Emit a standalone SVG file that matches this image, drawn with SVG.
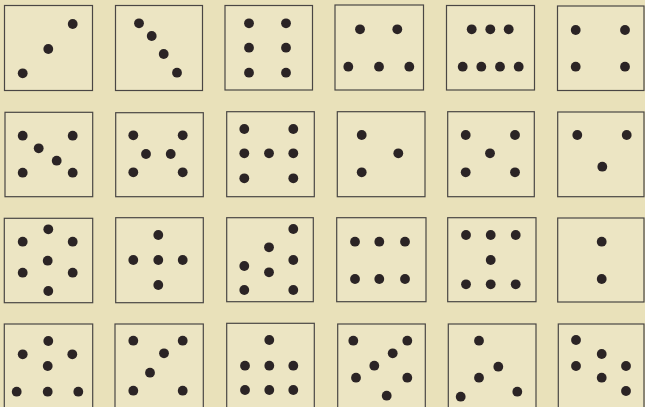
<svg xmlns="http://www.w3.org/2000/svg" width="645" height="407" viewBox="0 0 645 407">
<style>
.b{fill:#ece5c3;stroke:#4a4644;stroke-width:1.2}
.d{fill:#2b2425}
</style>
<defs><circle id="dot" r="4.9" class="d"/></defs>
<rect width="645" height="407" fill="#e9e1ba"/>
<g id="r1c1"><rect class="b" x="4.5" y="5.5" width="88" height="85"/>
<use href="#dot" x="72.7" y="24"/><use href="#dot" x="48.3" y="49"/><use href="#dot" x="22.7" y="73.3"/></g>
<g id="r1c2"><rect class="b" x="115.5" y="5.5" width="87" height="85"/>
<use href="#dot" x="139" y="23.3"/><use href="#dot" x="151.7" y="36"/><use href="#dot" x="163.7" y="54"/><use href="#dot" x="177" y="72.7"/></g>
<g id="r1c3"><rect class="b" x="225" y="5.5" width="87.5" height="84.5"/>
<use href="#dot" x="249" y="23.3"/><use href="#dot" x="286" y="23.3"/><use href="#dot" x="249" y="47.7"/><use href="#dot" x="286" y="47.7"/><use href="#dot" x="249" y="72.7"/><use href="#dot" x="286" y="72.7"/></g>
<g id="r1c4"><rect class="b" x="335" y="5" width="88.5" height="85"/>
<use href="#dot" x="360" y="29.3"/><use href="#dot" x="397.3" y="29.3"/><use href="#dot" x="348.3" y="66.7"/><use href="#dot" x="379" y="66.7"/><use href="#dot" x="409.3" y="66.7"/></g>
<g id="r1c5"><rect class="b" x="446.5" y="5.5" width="88" height="84.5"/>
<use href="#dot" x="471.7" y="29.3"/><use href="#dot" x="490.3" y="29.3"/><use href="#dot" x="508.7" y="29.3"/><use href="#dot" x="462.7" y="66.7"/><use href="#dot" x="481.3" y="66.7"/><use href="#dot" x="500" y="66.7"/><use href="#dot" x="518.7" y="66.7"/></g>
<g id="r1c6"><rect class="b" x="557.5" y="6" width="86.5" height="84.5"/>
<use href="#dot" x="575.7" y="30"/><use href="#dot" x="625" y="30"/><use href="#dot" x="575.7" y="66.7"/><use href="#dot" x="625" y="66.7"/></g>

<g id="r2c1"><rect class="b" x="5" y="112.3" width="87.7" height="84.4"/>
<use href="#dot" x="22.7" y="135.7"/><use href="#dot" x="72.7" y="135.7"/><use href="#dot" x="38.7" y="148.3"/><use href="#dot" x="56.7" y="160.7"/><use href="#dot" x="22.7" y="172.7"/><use href="#dot" x="72.7" y="172.7"/></g>
<g id="r2c2"><rect class="b" x="115.7" y="112.7" width="87.6" height="84"/>
<use href="#dot" x="133.3" y="135.3"/><use href="#dot" x="182.7" y="135.3"/><use href="#dot" x="146" y="154"/><use href="#dot" x="170.7" y="154"/><use href="#dot" x="133.3" y="172.3"/><use href="#dot" x="182.7" y="172.3"/></g>
<g id="r2c3"><rect class="b" x="226.7" y="111.7" width="87.6" height="85"/>
<use href="#dot" x="244.3" y="129"/><use href="#dot" x="293.3" y="129"/><use href="#dot" x="244.3" y="153.3"/><use href="#dot" x="269" y="153.3"/><use href="#dot" x="293.3" y="153.3"/><use href="#dot" x="244.3" y="178.3"/><use href="#dot" x="293.3" y="178.3"/></g>
<g id="r2c4"><rect class="b" x="337.3" y="111.7" width="87.7" height="85"/>
<use href="#dot" x="361.7" y="135"/><use href="#dot" x="398.3" y="153.3"/><use href="#dot" x="361.7" y="172.3"/></g>
<g id="r2c5"><rect class="b" x="447.7" y="111.7" width="86.6" height="85"/>
<use href="#dot" x="465.7" y="135"/><use href="#dot" x="515" y="135"/><use href="#dot" x="490" y="153.3"/><use href="#dot" x="465.7" y="172.3"/><use href="#dot" x="515" y="172.3"/></g>
<g id="r2c6"><rect class="b" x="557.7" y="112" width="86.3" height="84.7"/>
<use href="#dot" x="577.3" y="135"/><use href="#dot" x="626.7" y="135"/><use href="#dot" x="602.3" y="166.7"/></g>

<g id="r3c1"><rect class="b" x="4.3" y="218.3" width="88.4" height="84.4"/>
<use href="#dot" x="48.3" y="229.3"/><use href="#dot" x="22.7" y="241.7"/><use href="#dot" x="72.7" y="241.7"/><use href="#dot" x="47.7" y="260.7"/><use href="#dot" x="22.7" y="272.7"/><use href="#dot" x="72.7" y="272.7"/><use href="#dot" x="48.3" y="291"/></g>
<g id="r3c2"><rect class="b" x="115.7" y="217.7" width="87.6" height="85"/>
<use href="#dot" x="158.3" y="235"/><use href="#dot" x="133.3" y="260"/><use href="#dot" x="158.3" y="260"/><use href="#dot" x="182.7" y="260"/><use href="#dot" x="158.3" y="285"/></g>
<g id="r3c3"><rect class="b" x="226.7" y="217.7" width="86.6" height="84"/>
<use href="#dot" x="293.3" y="229"/><use href="#dot" x="269" y="247.3"/><use href="#dot" x="293.3" y="260"/><use href="#dot" x="244.3" y="266"/><use href="#dot" x="269" y="272.3"/><use href="#dot" x="244.3" y="290"/><use href="#dot" x="293.3" y="290"/></g>
<g id="r3c4"><rect class="b" x="336.7" y="217.7" width="89.3" height="84"/>
<use href="#dot" x="355" y="241.7"/><use href="#dot" x="379.3" y="241.7"/><use href="#dot" x="405" y="241.7"/><use href="#dot" x="355" y="279"/><use href="#dot" x="379.3" y="279"/><use href="#dot" x="405" y="279"/></g>
<g id="r3c5"><rect class="b" x="447.7" y="217.7" width="88.3" height="84"/>
<use href="#dot" x="466" y="235"/><use href="#dot" x="490.7" y="235"/><use href="#dot" x="515.7" y="235"/><use href="#dot" x="490.7" y="260"/><use href="#dot" x="466" y="284.3"/><use href="#dot" x="490.7" y="284.3"/><use href="#dot" x="515.7" y="284.3"/></g>
<g id="r3c6"><rect class="b" x="557.7" y="218" width="86.3" height="84"/>
<use href="#dot" x="601.7" y="241.7"/><use href="#dot" x="601.7" y="279"/></g>

<g id="r4c1"><rect class="b" x="4.3" y="324" width="88.4" height="90"/>
<use href="#dot" x="48.3" y="341"/><use href="#dot" x="22.7" y="354.3"/><use href="#dot" x="72.3" y="354.3"/><use href="#dot" x="47.7" y="366"/><use href="#dot" x="16.7" y="391.7"/><use href="#dot" x="47.7" y="391.7"/><use href="#dot" x="78.3" y="391.7"/></g>
<g id="r4c2"><rect class="b" x="115" y="324" width="88.3" height="90"/>
<use href="#dot" x="133.3" y="340.7"/><use href="#dot" x="182.7" y="340.7"/><use href="#dot" x="164" y="353.3"/><use href="#dot" x="150" y="372.7"/><use href="#dot" x="133.3" y="390.7"/><use href="#dot" x="182.7" y="390.7"/></g>
<g id="r4c3"><rect class="b" x="226.7" y="323.3" width="87.6" height="90"/>
<use href="#dot" x="269.3" y="340"/><use href="#dot" x="245" y="365.7"/><use href="#dot" x="269.3" y="365.7"/><use href="#dot" x="293.3" y="365.7"/><use href="#dot" x="245" y="390"/><use href="#dot" x="269.3" y="390"/><use href="#dot" x="293.3" y="390"/></g>
<g id="r4c4"><rect class="b" x="337.7" y="324" width="87.6" height="90"/>
<use href="#dot" x="353.3" y="340.7"/><use href="#dot" x="407.3" y="340.7"/><use href="#dot" x="392.7" y="353.3"/><use href="#dot" x="374.3" y="365.7"/><use href="#dot" x="356" y="377.7"/><use href="#dot" x="407.3" y="377.7"/><use href="#dot" x="386.7" y="395.7"/></g>
<g id="r4c5"><rect class="b" x="448.3" y="324" width="87.7" height="90"/>
<use href="#dot" x="479" y="340.7"/><use href="#dot" x="498.3" y="366.7"/><use href="#dot" x="479" y="377.7"/><use href="#dot" x="517.3" y="391.7"/><use href="#dot" x="460.7" y="396.7"/></g>
<g id="r4c6"><rect class="b" x="558.3" y="324" width="85.7" height="90"/>
<use href="#dot" x="576" y="340"/><use href="#dot" x="601.7" y="354"/><use href="#dot" x="576" y="366"/><use href="#dot" x="626" y="366"/><use href="#dot" x="601.7" y="377.7"/><use href="#dot" x="626" y="391"/></g>
</svg>
